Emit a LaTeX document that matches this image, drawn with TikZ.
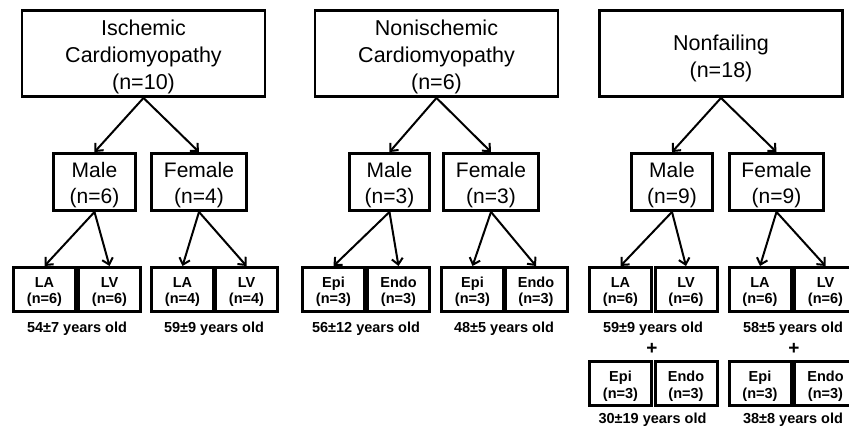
\documentclass[tikz,border=0pt]{standalone}
\usepackage{fontspec}
\setmainfont{Liberation Sans}
\usetikzlibrary{arrows.meta, positioning}

\begin{document}
\begin{tikzpicture}[x=1pt, y=-1pt,
	topbox/.style={draw, line width=2.9pt, minimum width=243pt, minimum height=86pt, align=center, inner sep=0pt, font=\fontsize{21.5}{27}\selectfont},
	sexbox/.style={draw, line width=2.9pt, minimum height=57pt, align=center, inner sep=0pt, text height=46pt, text depth=2pt, font=\fontsize{21}{26}\selectfont},
	cellbox/.style={draw, line width=3pt, minimum width=62pt, minimum height=44pt, align=center, inner sep=0pt, text height=31pt, text depth=2pt, font=\bfseries\fontsize{14.5}{16.5}\selectfont},
	agetext/.style={anchor=base, inner sep=0pt, font=\bfseries\fontsize{14.5}{17}\selectfont},
	plustext/.style={inner sep=0pt, font=\bfseries\fontsize{19}{19}\selectfont},
	arr/.style={line width=2pt, -{Straight Barb[length=6pt, width=11pt]}}]
	
	\useasboundingbox (0,0) rectangle (849,427);
	\clip (0,0) rectangle (849,427);
	
	% groups
	\node[topbox, text height=75pt, text depth=2pt] (isch) at (143.5,53.5) {Ischemic\\Cardiomyopathy\\(n=10)};
	\node[topbox, text height=75pt, text depth=2pt] (nonisch) at (436.5,53.5) {Nonischemic\\Cardiomyopathy\\(n=6)};
	\node[topbox, text height=50pt, text depth=1pt] (nonfail) at (721,53.5) {Nonfailing\\(n=18)};
	
	% sex
	\foreach \nm/\cx/\bw/\lab/\n in {ischM/94.5/82.6/Male/6, ischF/199/95.6/Female/4,
		nonM/389.5/80.6/Male/3, nonF/491/95.6/Female/3,
		failM/672/81.6/Male/9, failF/776.5/94.6/Female/9}
	\node[sexbox, minimum width=\bw pt] (\nm) at (\cx,182) {\lab\\(n=\n)};
	
	% samples
	\foreach \nm/\cx/\cy/\lab/\n in {ischMla/44.5/289.5/LA/6, ischMlv/109.5/289.5/LV/6,
		ischFla/182.5/289.5/LA/4, ischFlv/246.5/289.5/LV/4,
		nonMepi/333.5/289.5/Epi/3, nonMendo/398.5/289.5/Endo/3,
		nonFepi/472.5/289.5/Epi/3, nonFendo/536/289.5/Endo/3,
		failMla/620.5/289.5/LA/6, failMlv/686/289.5/LV/6,
		failFla/760/289.5/LA/6, failFlv/825.5/289.5/LV/6,
		failMepi/620.5/384/Epi/3, failMendo/686/384/Endo/3,
		failFepi/760/384/Epi/3, failFendo/825.5/384/Endo/3}
	\node[cellbox] (\nm) at (\cx,\cy) {\lab\\(n=\n)};
	
	% ages
	\node[agetext] (ischMage) at (77,333) {54±7 years old};
	\node[agetext] (ischFage) at (214,333) {59±9 years old};
	\node[agetext] (nonMage) at (366,333) {56±12 years old};
	\node[agetext] (nonFage) at (504,333) {48±5 years old};
	\node[agetext] (failMage) at (653,333) {59±9 years old};
	\node[agetext] (failFage) at (793,333) {58±5 years old};
	\node[plustext] (failMplus) at (652,348.5) {+};
	\node[plustext] (failFplus) at (794,348.5) {+};
	\node[agetext] (failMage2) at (652.5,424) {30±19 years old};
	\node[agetext] (failFage2) at (793,424) {38±8 years old};
	
	% arrows
	\foreach \a/\b in {isch/ischM, isch/ischF, nonisch/nonM, nonisch/nonF, nonfail/failM, nonfail/failF,
		ischM/ischMla, ischM/ischMlv, ischF/ischFla, ischF/ischFlv,
		nonM/nonMepi, nonM/nonMendo, nonF/nonFepi, nonF/nonFendo,
		failM/failMla, failM/failMlv, failF/failFla, failF/failFlv}
	\draw[arr] (\a.south) -- (\b.north);
\end{tikzpicture}
\end{document}
